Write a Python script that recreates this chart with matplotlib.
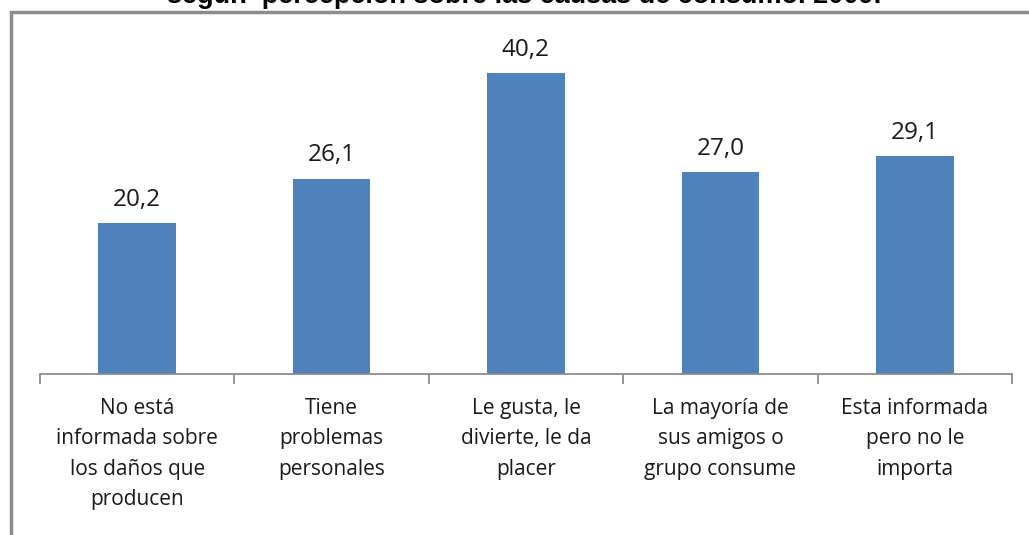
import matplotlib
matplotlib.use("Agg")
import matplotlib.pyplot as plt
from matplotlib.patches import Rectangle

categories = [
    "No está\ninformada sobre\nlos daños que\nproducen",
    "Tiene\nproblemas\npersonales",
    "Le gusta, le\ndivierte, le da\nplacer",
    "La mayoría de\nsus amigos o\ngrupo consume",
    "Esta informada\npero no le\nimporta",
]
values = [20.2, 26.1, 40.2, 27.0, 29.1]
value_labels = ["20,2", "26,1", "40,2", "27,0", "29,1"]
title = "según  percepción sobre las causas de consumo. 2009."

W, H = 1029, 535
fig = plt.figure(figsize=(W / 100, H / 100), dpi=100)
fig.patch.set_facecolor("white")

# outer chart frame (runs off the right and bottom edges)
fig.patches.append(Rectangle((10.5 / W, -0.05), 1.2, 1 - 12 / H + 0.05,
                             transform=fig.transFigure, fill=False,
                             edgecolor="#8c8c8c", linewidth=2.5, zorder=0))

# title, mostly cut off by the top edge
fig.text(524 / W, 1 - 3 / H, title, ha="center", va="baseline",
         fontsize=19.5, fontweight="bold", family="Liberation Sans", color="black")

ax = fig.add_axes([40 / W, 1 - 374 / H, 972 / W, 337 / H])
x = range(len(values))
ax.bar(x, values, width=0.4, color="#4F81BD", zorder=2)
ax.set_xlim(-0.5, len(values) - 0.5)
ax.set_ylim(0, 45)

for xi, v, lab in zip(x, values, value_labels):
    ax.annotate(lab, (xi, v), xytext=(0, 8), textcoords="offset points",
                ha="center", va="bottom", fontsize=17.5, family="Open Sans",
                color="#1a1a1a")

for s in ["top", "right", "left"]:
    ax.spines[s].set_visible(False)
ax.spines["bottom"].set_color("#8c8c8c")
ax.spines["bottom"].set_linewidth(1.3)
ax.set_yticks([])

ax.set_xticks([i - 0.5 for i in range(len(values) + 1)], minor=False)
ax.set_xticklabels([])
ax.tick_params(axis="x", which="major", length=7, width=1.3, color="#8c8c8c")
ax.set_xticks(list(x), minor=True)
ax.set_xticklabels(categories, minor=True, fontsize=15, family="Open Sans",
                   color="#1a1a1a", linespacing=1.6)
ax.tick_params(axis="x", which="minor", length=0, pad=17)

fig.savefig("out.png", dpi=100)
